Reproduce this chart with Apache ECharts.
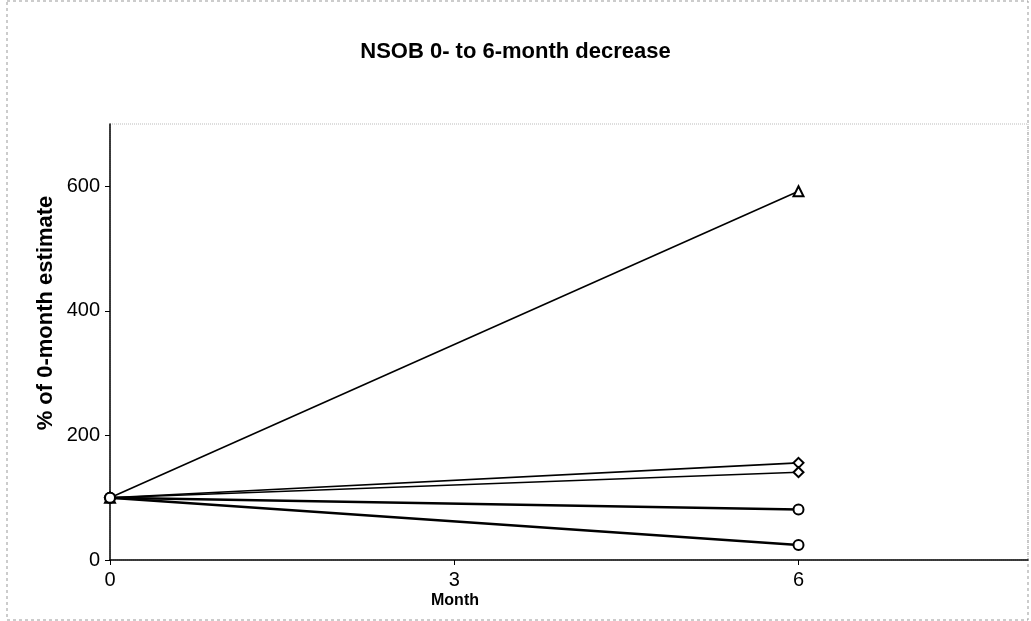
<!DOCTYPE html>
<html>
<head>
<meta charset="utf-8">
<script src="https://cdn.jsdelivr.net/npm/echarts@6/dist/echarts.min.js"></script>
<style>
  html, body { margin: 0; padding: 0; background: #fff; }
  #chart { width: 1031px; height: 621px; }
</style>
</head>
<body>
<div id="chart"></div>
<script>
// months and % of 0-month estimate, one array per line
const months = [0, 6];
const triangleVals = [100, 592];
const diamondA = [100, 156];
const diamondB = [100, 141];
const circleA = [100, 81];
const circleB = [100, 24];

const xTicks = [0, 3, 6];
const yTicks = [0, 200, 400, 600];

const font = "'Liberation Sans', Arial, sans-serif";

function pairs(vals) {
  return months.map((m, i) => [m, vals[i]]);
}

function lineSeries(name, vals, symbol, w) {
  return {
    name: name,
    type: "line",
    data: pairs(vals),
    symbol: symbol,
    symbolSize: 10,
    lineStyle: { color: "#000", width: w },
    itemStyle: { color: "#fff", borderColor: "#000", borderWidth: 2 },
    silent: true,
    z: 3,
  };
}

const chart = echarts.init(document.getElementById("chart"));
chart.setOption({
  animation: false,
  backgroundColor: "#fff",
  title: {
    text: "NSOB 0- to 6-month decrease",
    left: "center",
    top: 36,
    textStyle: { fontFamily: font, fontSize: 22, fontWeight: "bold", color: "#000" },
  },
  grid: {
    left: 110,
    right: 3,
    top: 124,
    bottom: 61,
    show: true,
    borderColor: "#bbb",
    borderWidth: 1,
    borderType: "dotted",
  },
  graphic: [
    {
      type: "rect",
      shape: { x: 7, y: 1, width: 1021, height: 619 },
      style: { fill: null, stroke: "#999", lineWidth: 1, lineDash: [3, 3] },
      silent: true,
      z: -1,
    },
    {
      type: "text",
      x: 46,
      y: 313,
      rotation: Math.PI / 2,
      style: {
        text: "% of 0-month estimate",
        fontFamily: font,
        fontSize: 22,
        fontWeight: "bold",
        fill: "#000",
        align: "center",
        verticalAlign: "middle",
      },
      silent: true,
    },
    {
      type: "text",
      x: 455,
      y: 601,
      style: {
        text: "Month",
        fontFamily: font,
        fontSize: 16,
        fontWeight: "bold",
        fill: "#000",
        align: "center",
        verticalAlign: "middle",
      },
      silent: true,
    },
  ],
  xAxis: {
    type: "value",
    min: 0,
    max: 8,
    interval: 3,
    axisLine: { show: true, lineStyle: { color: "#000", width: 1.5 } },
    axisTick: { show: true, length: 5, customValues: xTicks, lineStyle: { color: "#000" } },
    axisLabel: {
      margin: 10,
      fontFamily: font,
      fontSize: 20,
      color: "#000",
      customValues: xTicks,
    },
    splitLine: { show: false },
  },
  yAxis: {
    type: "value",
    min: 0,
    max: 700,
    interval: 200,
    axisLine: { show: true, lineStyle: { color: "#000", width: 1.5 } },
    axisTick: { show: true, length: 5, customValues: yTicks, lineStyle: { color: "#000" } },
    axisLabel: {
      margin: 10,
      fontFamily: font,
      fontSize: 20,
      color: "#000",
      customValues: yTicks,
    },
    splitLine: { show: false },
  },
  series: [
    lineSeries("A", triangleVals, "triangle", 1.6),
    lineSeries("B", diamondA, "diamond", 1.6),
    lineSeries("C", diamondB, "diamond", 1.6),
    lineSeries("D", circleA, "circle", 2.6),
    lineSeries("E", circleB, "circle", 2.4),
  ],
});
</script>
</body>
</html>
